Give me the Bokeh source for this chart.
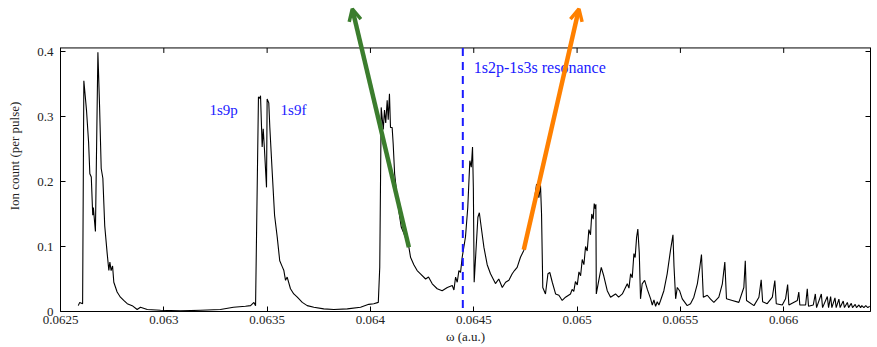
from bokeh.plotting import figure
from bokeh.models import Range1d, LinearAxis, FixedTicker, Label, Arrow, OpenHead
from bokeh.embed import file_html
from bokeh.resources import INLINE

# ---- data ----
omega = [
    0.062586, 0.062593, 0.062607, 0.062613, 0.062626, 0.062636, 0.062642, 0.062649, 0.062656, 0.062659, 0.062669, 0.062681,
    0.062689, 0.062697, 0.062705, 0.062714, 0.062726, 0.062734, 0.062739, 0.062745, 0.062752, 0.062758,
    0.062774, 0.062790, 0.062806, 0.062823, 0.062847, 0.062871, 0.062887, 0.062920, 0.062984, 0.063081, 0.063178, 0.063274, 0.063337, 0.063395, 0.063420, 0.063436, 0.063444,
    0.063458, 0.063465, 0.063468, 0.063476, 0.063481, 0.063487, 0.063497, 0.063500, 0.063508, 0.063513, 0.063525, 0.063536,
    0.063549, 0.063561, 0.063573, 0.063581, 0.063589, 0.063597, 0.063613, 0.063629, 0.063646, 0.063670, 0.063694, 0.063726, 0.063774, 0.063823, 0.063888, 0.063952,
    0.063992, 0.064016, 0.064038, 0.064045, 0.064052, 0.064062, 0.064068, 0.064074, 0.064081, 0.064086, 0.064092, 0.064097, 0.064105, 0.064110,
    0.064117, 0.064126, 0.064137, 0.064149, 0.064162, 0.064175, 0.064186, 0.064194, 0.064210, 0.064226, 0.064242, 0.064267, 0.064281, 0.064299,
    0.064323, 0.064347, 0.064372, 0.064396, 0.064404, 0.064412, 0.064420, 0.064428, 0.064436, 0.064444, 0.064460, 0.064471,
    0.064481, 0.064488, 0.064494, 0.064498, 0.064502, 0.064510, 0.064520, 0.064527, 0.064536, 0.064549, 0.064565, 0.064581, 0.064605, 0.064621,
    0.064638, 0.064654, 0.064670, 0.064686, 0.064697, 0.064710, 0.064726, 0.064742, 0.064759, 0.064775, 0.064791, 0.064804, 0.064815, 0.064823,
    0.064828, 0.064834, 0.064847, 0.064859, 0.064868, 0.064880, 0.064896, 0.064912, 0.064928, 0.064944, 0.064968, 0.064976,
    0.064984, 0.064992, 0.065001, 0.065009, 0.065017, 0.065025, 0.065033, 0.065041, 0.065049, 0.065057, 0.065065, 0.065071, 0.065078, 0.065083, 0.065088, 0.065091, 0.065093,
    0.065105, 0.065117, 0.065129, 0.065146, 0.065162, 0.065186, 0.065201, 0.065219, 0.065243, 0.065251, 0.065259, 0.065267, 0.065275, 0.065281,
    0.065288, 0.065294, 0.065301, 0.065307, 0.065315, 0.065327, 0.065340, 0.065356, 0.065364, 0.065372, 0.065380, 0.065388, 0.065396, 0.065404, 0.065420, 0.065436,
    0.065452, 0.065464, 0.065469, 0.065477, 0.065485, 0.065496, 0.065509, 0.065533, 0.065549, 0.065565, 0.065582, 0.065594, 0.065602, 0.065611,
    0.065630, 0.065646, 0.065662, 0.065686, 0.065703, 0.065715, 0.065723, 0.065751, 0.065783, 0.065807, 0.065814, 0.065820, 0.065856, 0.065880,
    0.065891, 0.065898, 0.065920, 0.065945, 0.065957, 0.065964, 0.065993, 0.066009, 0.066019, 0.066025, 0.066066, 0.066073, 0.066078, 0.066106,
    0.066114, 0.066120, 0.066143, 0.066153, 0.066159, 0.066182, 0.066188, 0.066211, 0.066217, 0.066227, 0.066233, 0.066248, 0.066254, 0.066267,
    0.066273, 0.066288, 0.066294, 0.066308, 0.066314, 0.066327, 0.066333, 0.066346, 0.066352, 0.066364, 0.066372, 0.066378, 0.066388, 0.066397, 0.066407,
    0.066416,
]
ion_count = [
    0.009, 0.014, 0.012, 0.355, 0.309, 0.260, 0.212, 0.207, 0.148, 0.160, 0.123, 0.399,
    0.317, 0.220, 0.205, 0.132, 0.089, 0.063, 0.076, 0.063, 0.070, 0.045,
    0.030, 0.022, 0.017, 0.012, 0.009, 0.003, 0.0065, 0.003, 0.002, 0.001, 0.002, 0.003, 0.0065, 0.008, 0.009, 0.014, 0.009,
    0.330, 0.328, 0.332, 0.253, 0.281, 0.250, 0.191, 0.327, 0.321, 0.2835, 0.212, 0.148,
    0.114, 0.078, 0.069, 0.063, 0.048, 0.053, 0.035, 0.027, 0.022, 0.014, 0.009, 0.0065, 0.004, 0.003, 0.004, 0.0066,
    0.011, 0.012, 0.014, 0.068, 0.314, 0.280, 0.310, 0.290, 0.325, 0.295, 0.335, 0.283, 0.283, 0.258,
    0.212, 0.186, 0.155, 0.130, 0.120, 0.109, 0.099, 0.0835, 0.072, 0.063, 0.058, 0.050, 0.053, 0.0426,
    0.035, 0.032, 0.037, 0.040, 0.033, 0.053, 0.045, 0.063, 0.060, 0.0835, 0.115, 0.160,
    0.232, 0.222, 0.253, 0.190, 0.045, 0.090, 0.145, 0.152, 0.130, 0.099, 0.072, 0.058, 0.043, 0.050,
    0.037, 0.045, 0.048, 0.058, 0.063, 0.068, 0.0835, 0.094, 0.114, 0.135, 0.166, 0.196, 0.175, 0.194,
    0.150, 0.037, 0.027, 0.058, 0.060, 0.045, 0.027, 0.025, 0.017, 0.022, 0.027, 0.034,
    0.031, 0.046, 0.041, 0.061, 0.055, 0.080, 0.072, 0.100, 0.093, 0.126, 0.118, 0.150, 0.142, 0.166, 0.158, 0.165, 0.027,
    0.048, 0.068, 0.055, 0.032, 0.022, 0.027, 0.022, 0.027, 0.0426, 0.036, 0.058, 0.052, 0.089, 0.083,
    0.114, 0.127, 0.090, 0.0195, 0.0426, 0.048, 0.034, 0.0195, 0.010, 0.018, 0.008, 0.015, 0.010, 0.017, 0.032, 0.058,
    0.094, 0.118, 0.070, 0.0195, 0.037, 0.032, 0.0195, 0.009, 0.012, 0.022, 0.0426, 0.068, 0.0877, 0.022,
    0.025, 0.019, 0.014, 0.022, 0.0426, 0.076, 0.0195, 0.017, 0.014, 0.037, 0.078, 0.017, 0.009, 0.022,
    0.0487, 0.015, 0.012, 0.022, 0.0477, 0.012, 0.010, 0.0195, 0.0415, 0.010, 0.017, 0.030, 0.010, 0.010,
    0.035, 0.008, 0.010, 0.027, 0.006, 0.027, 0.006, 0.023, 0.006, 0.023, 0.006, 0.021, 0.006, 0.019,
    0.006, 0.016, 0.006, 0.014, 0.006, 0.0125, 0.006, 0.011, 0.006, 0.010, 0.006, 0.009, 0.006, 0.009, 0.006,
    0.008,
]
assert len(omega) == len(ion_count)

x_ticks = [0.0625, 0.063, 0.0635, 0.064, 0.0645, 0.065, 0.0655, 0.066]
x_tick_labels = ["0.0625", "0.063", "0.0635", "0.064", "0.0645", "0.065", "0.0655", "0.066"]
y_ticks = [0.0, 0.1, 0.2, 0.3, 0.4]
y_tick_labels = ["0", "0.1", "0.2", "0.3", "0.4"]

# axes box (data limits) and the space above it used by the arrows
x_min, x_max = 0.0625, 0.06642
y_min, y_max = 0.0, 0.4055
y_canvas_top = 0.4785
tick_len_y = 0.0077

resonance_omega = 0.064447

state_names = ["1s9p", "1s9f", "1s2p-1s3s resonance"]
state_x = [0.063221, 0.063565, 0.064500]
state_y = [0.3103, 0.3100, 0.3758]
state_sizes = ["15px", "15px", "16px"]

arrow_colors = ["#3b7d2d", "#ff8000"]
arrow_x_start = [0.064186, 0.064742]
arrow_y_start = [0.099, 0.095]
arrow_x_end = [0.063912, 0.065009]
arrow_y_end = [0.4657, 0.4657]

FONT = "Liberation Serif"
TXT = "#222222"

p = figure(width=873, height=346, output_backend="svg", toolbar_location=None,
           x_range=Range1d(x_min, x_max), y_range=Range1d(y_min, y_canvas_top),
           min_border_left=60, min_border_right=3, min_border_top=0, min_border_bottom=35)
p.background_fill_color = "white"
p.border_fill_color = "white"
p.outline_line_color = None
p.grid.visible = False

def style_axis(ax):
    ax.major_tick_in = 5
    ax.major_tick_out = 0
    ax.minor_tick_line_color = None
    ax.axis_line_color = "black"
    ax.major_tick_line_color = "black"
    ax.major_label_text_font = FONT
    ax.major_label_text_color = TXT
    ax.major_label_text_font_size = "13px"

xa = p.xaxis[0]
xa.ticker = FixedTicker(ticks=x_ticks)
xa.major_label_overrides = {t: s for t, s in zip(x_ticks, x_tick_labels)}
style_axis(xa)
xa.major_label_standoff = 4
xa.axis_label = "ω (a.u.)"
xa.axis_label_text_font = FONT
xa.axis_label_text_font_size = "13px"
xa.axis_label_text_font_style = "normal"
xa.axis_label_text_color = TXT
xa.axis_label_standoff = 2

ya = p.yaxis[0]
ya.ticker = FixedTicker(ticks=y_ticks)
ya.bounds = (y_min, y_max)
ya.major_label_overrides = {t: s for t, s in zip(y_ticks, y_tick_labels)}
style_axis(ya)
ya.major_label_standoff = 7
ya.axis_label = "Ion count (per pulse)"
ya.axis_label_text_font = FONT
ya.axis_label_text_font_size = "13px"
ya.axis_label_text_font_style = "normal"
ya.axis_label_text_color = TXT
ya.axis_label_standoff = 12

right = LinearAxis(ticker=FixedTicker(ticks=y_ticks), bounds=(y_min, y_max))
style_axis(right)
right.major_label_overrides = {t: "" for t in y_ticks}
right.major_label_text_color = None
right.major_label_standoff = 0
p.add_layout(right, "right")

# top edge of the box with its inward ticks
p.line([x_min, x_max], [y_max, y_max], line_color="black", line_width=1)
p.segment(x0=x_ticks, y0=[y_max] * len(x_ticks), x1=x_ticks, y1=[y_max - tick_len_y] * len(x_ticks),
          line_color="black", line_width=1)

# spectrum
p.line(omega, ion_count, line_color="black", line_width=1.1)

# resonance marker
p.line([resonance_omega, resonance_omega], [y_max, y_min], line_color="#1a1aff",
       line_width=2, line_dash="8 6")

for name, sx, sy, fs in zip(state_names, state_x, state_y, state_sizes):
    p.add_layout(Label(x=sx, y=sy, text=name, text_font=FONT, text_font_size=fs,
                       text_color="#1a1aff", text_align="left", text_baseline="alphabetic"))

for c, xs, ys, xe, ye in zip(arrow_colors, arrow_x_start, arrow_y_start, arrow_x_end, arrow_y_end):
    p.add_layout(Arrow(end=OpenHead(size=12, line_color=c, line_width=3.5),
                       x_start=xs, y_start=ys, x_end=xe, y_end=ye,
                       line_color=c, line_width=4.5))

open("out.html", "w").write(file_html(p, INLINE))
